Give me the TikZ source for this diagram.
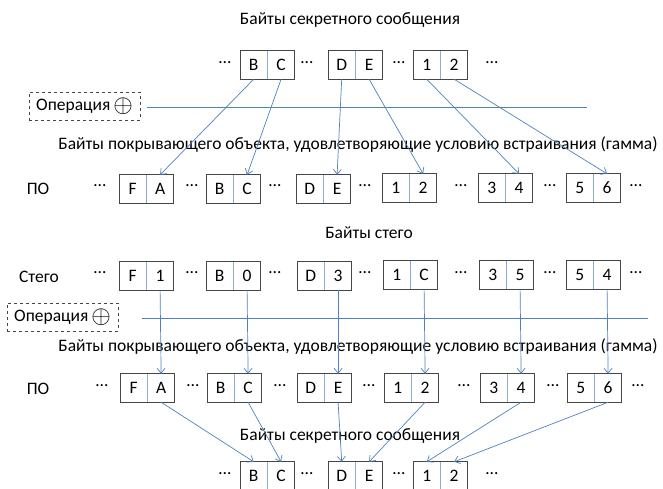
\documentclass[tikz,border=0pt]{standalone}
\usepackage{fontspec}
\setmainfont{Carlito}
\usetikzlibrary{positioning}
\usetikzlibrary{arrows.meta}

\definecolor{linkblue}{RGB}{79,129,189}
\definecolor{divblue}{RGB}{140,172,212}
\definecolor{boxgray}{RGB}{70,70,70}

\newcommand{\xorsign}{\raisebox{-0.08em}{\scalebox{1.45}{$\oplus$}}}

\tikzset{
  every node/.style={font=\fontsize{17.5}{21}\selectfont},
  cell/.style={minimum width=27pt, minimum height=28pt, inner sep=0pt},
  pairbox/.style={draw=boxgray, line width=0.9pt},
  divider/.style={draw=divblue, line width=0.9pt},
  link/.style={draw=linkblue, line width=0.7pt, arrows=-{Straight Barb[length=5pt,width=8pt]}},
  opline/.style={draw=linkblue, line width=0.7pt},
  opbox/.style={draw=boxgray, dashed, line width=0.7pt, minimum width=111pt, minimum height=28pt, inner sep=2pt},
  dotmark/.style={inner sep=0pt}
}

\begin{document}
\begin{tikzpicture}[x=1pt,y=-1pt]
    \useasboundingbox (0,0) rectangle (663,489);
    \clip (0,0) rectangle (663,489);

    % titles
    \node (title1) at (350,20) {Байты секретного сообщения};
    \node (gamma1) at (358,145) {Байты покрывающего объекта, удовлетворяющие условию встраивания (гамма)};
    \node (title2) at (369,233) {Байты стего};
    \node (gamma2) at (358,347) {Байты покрывающего объекта, удовлетворяющие условию встраивания (гамма)};
    \node (title3) at (350,436) {Байты секретного сообщения};

    % row labels
    \node (lblpo1) at (38,189) {ПО};
    \node (lblst)  at (39,277) {Стего};
    \node (lblpo2) at (38,389) {ПО};

    % operation boxes
    \node [opbox] (op1) at (84.5,106) {Операция\,\xorsign};
    \node [opbox] (op2) at (62.5,317) {Операция\,\xorsign};
    \coordinate (op1s) at (147,107);
    \coordinate (op1e) at (587,107);
    \coordinate (op2s) at (142,318);
    \coordinate (op2e) at (648,318);
    \draw [opline] (op1s) -- (op1e);
    \draw [opline] (op2s) -- (op2e);

    % byte pairs: name / left x / y / left byte / right byte
    \foreach \nm/\x/\y/\a/\b in {t1/240/65/B/C, t2/328/65/D/E, t3/413/65/1/2,
                                p1/119/189/F/A, p2/206/189/B/C, p3/296/189/D/E,
                                p4/382/188/1/2, p5/478/188/3/4, p6/566/188/5/6,
                                s1/119/276/F/1, s2/206/276/B/0, s3/297/276/D/3,
                                s4/383/275/1/C, s5/479/275/3/5, s6/566/275/5/4,
                                q1/120/388/F/A, q2/207/388/B/C, q3/297/388/D/E,
                                q4/384/388/1/2, q5/480/388/3/4, q6/567/388/5/6,
                                b1/240/476/B/C, b2/328/476/D/E, b3/413/476/1/2} {
      \node [cell, anchor=west] (\nm a) at (\x,\y) {\a};
      \node [cell, right=0pt of \nm a] (\nm b) {\b};
      \draw [pairbox] (\nm a.north west) rectangle (\nm b.south east);
      \draw [divider] (\nm a.north east) -- (\nm a.south east);
    }

    % dots between the pairs
    \foreach \x in {225,307,399,492} {
      \node [dotmark] (dt\x) at (\x,63) {…};
      \node [dotmark] (db\x) at (\x,474) {…};
    }
    \foreach \x in {100,192,275,365,461,550,636} {
      \node [dotmark] (dp\x) at (\x,186) {…};
      \node [dotmark] (ds\x) at (\x,273) {…};
    }
    \foreach \x in {102,193,280,369,464,553,638} {
      \node [dotmark] (dq\x) at (\x,386) {…};
    }

    % secret bytes go into the cover
    \draw [link] (t1a.south) -- (p1b.north);
    \draw [link] (t1b.south) -- (p2b.north);
    \draw [link] (t2a.south) -- (p3b.north);
    \draw [link] (t2b.south) -- (p4b.north);
    \draw [link] (t3a.south) -- (p5b.north);
    \draw [link] (t3b.south) -- (p6b.north);

    % stego back onto the cover
    \foreach \i in {1,...,6} {
      \draw [link] (s\i b.south) -- (q\i b.north);
    }

    % recovered secret bytes
    \draw [link] (q1b.south) -- (b1a.north);
    \draw [link] (q2b.south) -- (b1b.north);
    \draw [link] (q3b.south) -- (b2a.north);
    \draw [link] (q4b.south) -- (b2b.north);
    \draw [link] (q5b.south) -- (b3a.north);
    \draw [link] (q6b.south) -- (b3b.north);

\end{tikzpicture}
\end{document}
